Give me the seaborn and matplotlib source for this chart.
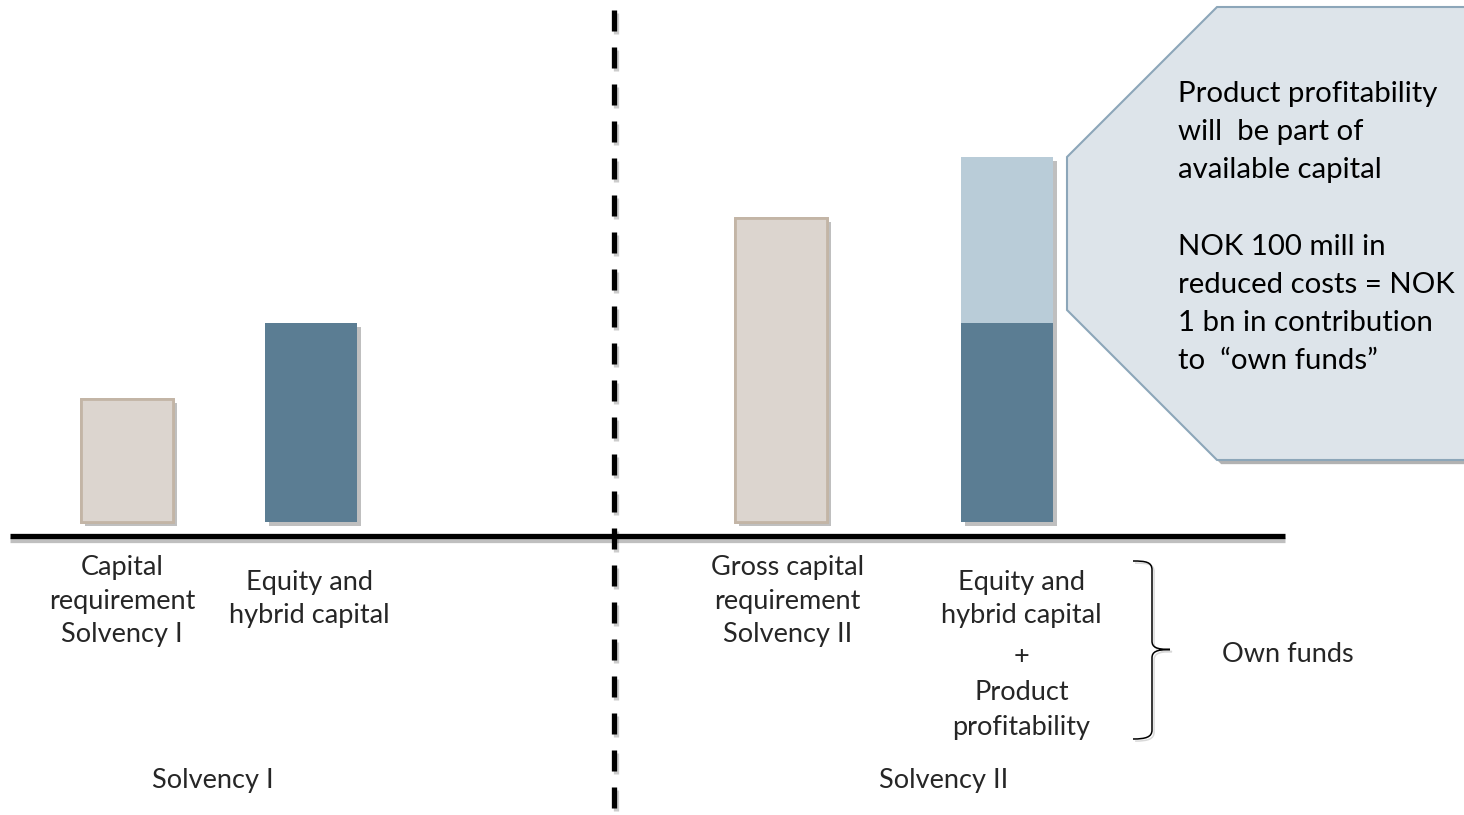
import numpy as np
import pandas as pd
import matplotlib
matplotlib.use("Agg")
import matplotlib.pyplot as plt
import seaborn as sns
from matplotlib.transforms import Affine2D
from matplotlib.patches import Polygon, PathPatch
from matplotlib.path import Path
from matplotlib.lines import Line2D
import matplotlib.patheffects as pe

# ---------------- data ----------------
categories = [
    "Capital requirement Solvency I",
    "Equity and hybrid capital (Solvency I)",
    "Gross capital requirement Solvency II",
    "Equity and hybrid capital + Product profitability",
]
base_values = [1.23, 1.99, 3.04, 1.99]          # capital amounts (relative units)
profitability_values = [0.0, 0.0, 0.0, 1.66]   # product profitability on top

label_lines = [
    ["Capital", "requirement", "Solvency I"],
    ["Equity and", "hybrid capital"],
    ["Gross capital", "requirement", "Solvency II"],
    ["Equity and", "hybrid capital", "+", "Product", "profitability"],
]
regime_labels = ["Solvency I", "Solvency II"]
bracket_label = "Own funds"
callout_lines = [
    "Product profitability",
    "will  be part of",
    "available capital",
    "",
    "NOK 100 mill in",
    "reduced costs = NOK",
    "1 bn in contribution",
    "to  \u201cown funds\u201d",
]

# ---------------- style / layout ----------------
W, H = 1464, 815
BEIGE, BEIGE_EDGE = "#dcd5cf", "#c3b5a6"
DARK, LIGHT = "#5b7d93", "#b9ccd8"
base_colors = [BEIGE, DARK, BEIGE, DARK]
top_colors = [BEIGE, DARK, BEIGE, LIGHT]
bar_x_px = [126.5, 311, 780.5, 1006.5]
bar_w_px = 92
zero_px = 522          # pixel row of value 0
px_per_unit = 100.0

sns.set_theme(style="white")
plt.rcParams["font.family"] = ["Lato", "DejaVu Sans"]
plt.rcParams["lines.scale_dashes"] = False

fig = plt.figure(figsize=(W / 100, H / 100), dpi=100)
fig.patch.set_facecolor("white")
ax = fig.add_axes([0, 0, 1, 1])
ax.set_facecolor("white")

# pixel transform (origin top-left) for annotations
T = Affine2D().scale(1 / W, -1 / H).translate(0, 1) + fig.transFigure

totals = [b + p for b, p in zip(base_values, profitability_values)]
df_top = pd.DataFrame({"x": bar_x_px, "value": totals, "cat": categories})
df_base = pd.DataFrame({"x": bar_x_px, "value": base_values, "cat": categories})
width = bar_w_px / np.min(np.diff(sorted(bar_x_px)))

sns.barplot(data=df_top, x="x", y="value", hue="cat", hue_order=categories,
            palette=top_colors, native_scale=True, width=width, saturation=1,
            errorbar=None, legend=False, ax=ax)
for p in ax.patches:
    p.set_path_effects([pe.SimplePatchShadow(offset=(3, -3), shadow_rgbFace="black", alpha=0.25),
                        pe.Normal()])
sns.barplot(data=df_base, x="x", y="value", hue="cat", hue_order=categories,
            palette=base_colors, native_scale=True, width=width, saturation=1,
            errorbar=None, legend=False, ax=ax)
for p in ax.patches:
    fc = matplotlib.colors.to_hex(p.get_facecolor())
    if fc == BEIGE:
        p.set_edgecolor(BEIGE_EDGE)
        p.set_linewidth(2.0)
    else:
        p.set_linewidth(0)

ax.set_xlim(0, W)
ax.set_ylim(-(H - zero_px) / px_per_unit, zero_px / px_per_unit)
ax.axis("off")

# baseline
shadow_line = [pe.SimpleLineShadow(offset=(0, -3), shadow_color="black", alpha=0.25), pe.Normal()]
fig.add_artist(Line2D([10, 1285], [535.5, 535.5], color="black", lw=3.8,
                      solid_capstyle="butt", transform=T, path_effects=shadow_line))
# dashed divider
fig.add_artist(Line2D([614, 614], [10, 830], color="black", lw=3.8,
                      linestyle=(0, (21 * 0.72, 16 * 0.72)), dash_capstyle="butt",
                      transform=T,
                      path_effects=[pe.SimpleLineShadow(offset=(1.5, -2), shadow_color="black", alpha=0.2),
                                    pe.Normal()]))

# callout
verts = [(1217, 7), (1067, 157), (1067, 310), (1217, 460), (1475, 460), (1475, 7)]
fig.add_artist(Polygon(verts, closed=True, facecolor="#dde4ea", edgecolor="#8ca6b9",
                       lw=1.5, transform=T,
                       path_effects=[pe.SimplePatchShadow(offset=(3, -3), shadow_rgbFace="black", alpha=0.3),
                                     pe.Normal()]))
for i, line in enumerate(callout_lines):
    if line:
        fig.text(1178, 102 + 38.2 * i, line, transform=T, fontsize=21.2,
                 ha="left", va="baseline", color="black")

# category labels
label_fs = 19.5
label_specs = [
    (122, [575, 608.5, 642]),
    (309.5, [590, 623.5]),
    (787.5, [575, 608.5, 642]),
    (1021.5, [590, 623.5, None, 700, 735]),
]
for (cx, baselines), lines in zip(label_specs, label_lines):
    for b, txt in zip(baselines, lines):
        if b is None:
            fig.text(cx, 657, txt, transform=T, fontsize=label_fs, ha="center", va="center")
        else:
            fig.text(cx, b, txt, transform=T, fontsize=label_fs, ha="center", va="baseline")

fig.text(213, 788, regime_labels[0], transform=T, fontsize=label_fs, ha="center", va="baseline")
fig.text(943.5, 788, regime_labels[1], transform=T, fontsize=label_fs, ha="center", va="baseline")

# curly bracket
codes = [Path.MOVETO, Path.CURVE4, Path.CURVE4, Path.CURVE4, Path.LINETO,
         Path.CURVE4, Path.CURVE4, Path.CURVE4,
         Path.CURVE4, Path.CURVE4, Path.CURVE4, Path.LINETO,
         Path.CURVE4, Path.CURVE4, Path.CURVE4]
pts = [(1133, 561), (1146, 561), (1152, 562), (1152, 570), (1152, 641),
       (1152, 647), (1156, 649.5), (1170, 649.5),
       (1156, 649.5), (1152, 652), (1152, 658), (1152, 730),
       (1152, 737), (1146, 739), (1133, 739)]
fig.add_artist(PathPatch(Path(pts, codes), facecolor="none", edgecolor="black", lw=1.1,
                         transform=T,
                         path_effects=[pe.SimpleLineShadow(offset=(1.5, -1.5), shadow_color="black", alpha=0.15),
                                       pe.Normal()]))
fig.text(1222, 662, bracket_label, transform=T, fontsize=label_fs, ha="left", va="baseline")

fig.savefig("out.png", dpi=100, facecolor="white")
